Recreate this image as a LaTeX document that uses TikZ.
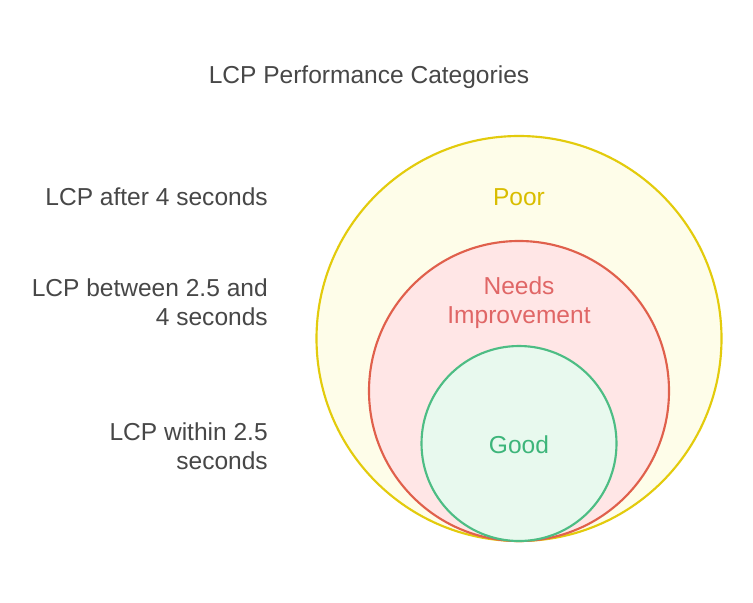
\documentclass[tikz,border=0pt]{standalone}
\usepackage{fontspec}
\setmainfont{Liberation Sans}
\definecolor{ylw}{HTML}{E3CB0C}
\definecolor{ylwfill}{HTML}{FEFDE9}
\definecolor{rd}{HTML}{E0604C}
\definecolor{rdfill}{HTML}{FFE6E6}
\definecolor{grn}{HTML}{4DBD84}
\definecolor{grnfill}{HTML}{E8F9EE}
\definecolor{ylwtxt}{HTML}{D9BD00}
\definecolor{rdtxt}{HTML}{E06666}
\definecolor{grntxt}{HTML}{3DB57A}
\definecolor{gr}{HTML}{474747}
\begin{document}
\begin{tikzpicture}[x=0.75pt,y=-0.75pt,
  lbl/.style={font=\fontsize{18.4pt}{21.75pt}\selectfont, inner sep=0pt},
  side/.style={lbl, text=gr, anchor=east, align=right},
  ring/.style={line width=1.6pt}]
\useasboundingbox[fill=white] (0,0) rectangle (753,603);
\node[lbl, text=gr] (title) at (369,77) {LCP Performance Categories};
\draw[ring, draw=ylw, fill=ylwfill] (519,338.5) circle[radius=202.5];
\draw[ring, draw=rd, fill=rdfill] (519,391) circle[radius=150];
\draw[ring, draw=grn, fill=grnfill] (519,443.5) circle[radius=97.5];
\node[lbl, text=ylwtxt] (poor) at (519,197) {Poor};
\node[lbl, text=rdtxt, align=center] (needs) at (519,302.5) {Needs\\Improvement};
\node[lbl, text=grntxt] (good) at (519,444.5) {Good};
\node[side] (l1) at (268,197) {LCP after 4 seconds};
\node[side] (l2) at (268,302.5) {LCP between 2.5 and\\4 seconds};
\node[side] (l3) at (268,446.5) {LCP within 2.5\\seconds};
\end{tikzpicture}
\end{document}
